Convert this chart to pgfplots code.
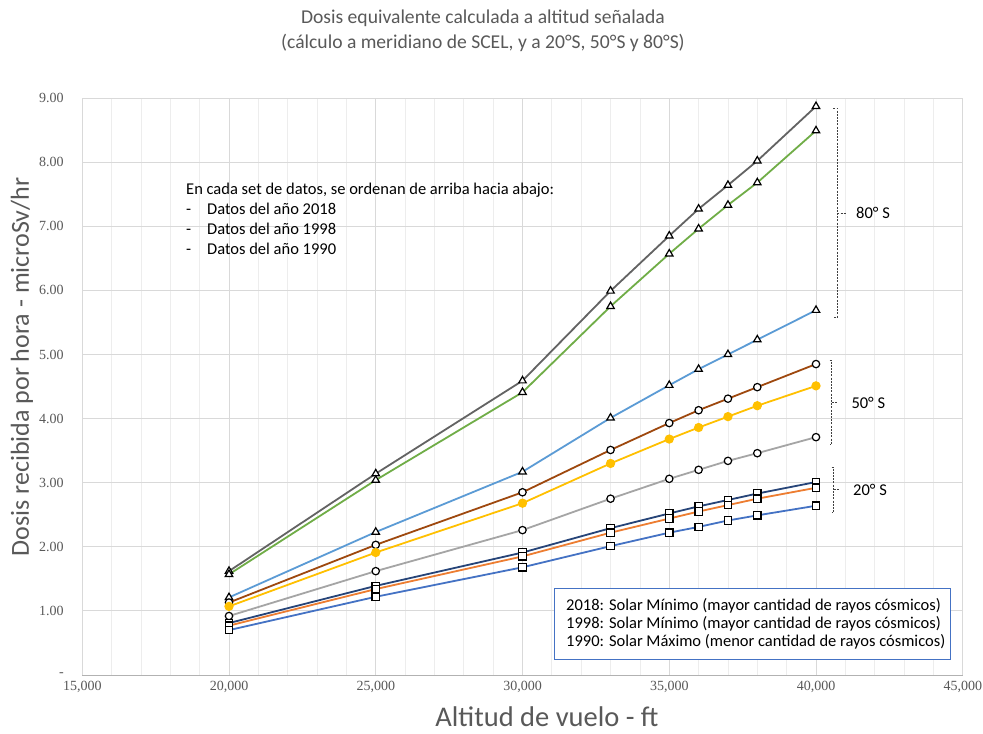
\documentclass[border=0pt]{standalone}
\usepackage{fontspec}
\setmainfont{Carlito}
\newfontfamily\tickfont{Liberation Serif}
\usepackage{pgfplots}
\pgfplotsset{compat=1.18}
\usepackage{pgfplotstable}
\definecolor{cA}{HTML}{636363}
\definecolor{cB}{HTML}{70AD47}
\definecolor{cC}{HTML}{5B9BD5}
\definecolor{cD}{HTML}{9E480E}
\definecolor{cE}{HTML}{FFC000}
\definecolor{cF}{HTML}{A5A5A5}
\definecolor{cG}{HTML}{264478}
\definecolor{cH}{HTML}{ED7D31}
\definecolor{cI}{HTML}{4472C4}
\definecolor{txt}{HTML}{595959}
\pgfplotstableread{
x s80a s80b s80c s50a s50b s50c s20a s20b s20c
20000 1.62 1.57 1.21 1.13 1.07 0.92 0.81 0.77 0.70
25000 3.14 3.04 2.23 2.03 1.91 1.62 1.39 1.34 1.22
30000 4.59 4.41 3.17 2.85 2.68 2.26 1.91 1.85 1.68
33000 5.99 5.75 4.01 3.51 3.30 2.75 2.29 2.22 2.01
35000 6.85 6.57 4.52 3.93 3.68 3.06 2.52 2.44 2.22
36000 7.27 6.96 4.77 4.13 3.86 3.20 2.63 2.55 2.31
37000 7.64 7.33 5.00 4.31 4.03 3.34 2.73 2.65 2.41
38000 8.02 7.68 5.23 4.49 4.20 3.46 2.83 2.75 2.49
40000 8.87 8.49 5.69 4.85 4.51 3.71 3.01 2.92 2.64
}\datatable
\begin{document}
\begin{tikzpicture}
\useasboundingbox[fill=white] (0bp,0bp) rectangle (983bp,734bp);
\begin{axis}[
  at={(82.25bp,59bp)}, anchor=south west,
  scale only axis, width=880.5bp, height=577bp,
  xmin=15000, xmax=45000, ymin=0, ymax=9,
  scaled x ticks=false, scaled y ticks=false,
  xtick={15000,20000,...,45000},
  xticklabels={{15,000},{20,000},{25,000},{30,000},{35,000},{40,000},{45,000}},
  minor x tick num=4,
  ytick={0,1,...,9},
  yticklabels={-,1.00,2.00,3.00,4.00,5.00,6.00,7.00,8.00,9.00},
  grid=both,
  major grid style={draw=black!15, line width=0.8bp},
  minor grid style={draw=black!7, line width=0.8bp},
  axis line style={draw=none},
  tick style={draw=none},
  tick label style={font=\tickfont\fontsize{14bp}{16bp}\selectfont, text=txt},
  yticklabel style={xshift=-15bp},
  xticklabel style={yshift=-3bp},
  clip=false,
  every axis plot/.append style={line width=1.8bp, mark size=3.7bp,
     mark options={draw=black, fill=white, line width=1.2bp, solid}},
]
\draw[black!30, line width=1bp] (axis cs:15000,0) -- (axis cs:45000,0);
\addplot[cA, mark=triangle*, mark size=4.3bp] table[x=x,y=s80a] {\datatable};
\addplot[cB, mark=triangle*, mark size=4.3bp] table[x=x,y=s80b] {\datatable};
\addplot[cC, mark=triangle*, mark size=4.3bp] table[x=x,y=s80c] {\datatable};
\addplot[cD, mark=*] table[x=x,y=s50a] {\datatable};
\addplot[cE, mark=*, mark options={fill=cE}] table[x=x,y=s50b] {\datatable};
\addplot[cF, mark=*] table[x=x,y=s50c] {\datatable};
\addplot[cG, mark=square*] table[x=x,y=s20a] {\datatable};
\addplot[cH, mark=square*] table[x=x,y=s20b] {\datatable};
\addplot[cI, mark=square*] table[x=x,y=s20c] {\datatable};
\end{axis}
\begin{scope}[x=1bp,y=1bp]
% title
\node[text=txt, align=center, font=\fontsize{19.6bp}{25bp}\selectfont] at (483,703)
  {Dosis equivalente calculada a altitud señalada\\(cálculo a meridiano de SCEL, y a 20°S, 50°S y 80°S)};
% axis labels
\node[text=txt, rotate=90, inner sep=0pt, font=\fontsize{26bp}{30bp}\selectfont] at (22,367) {Dosis recibida por hora - microSv/hr};
\node[text=txt, inner sep=0pt, font=\fontsize{28.5bp}{32bp}\selectfont] at (547,17) {Altitud de vuelo - ft};
% annotation
\begin{scope}[every node/.style={anchor=base west, inner sep=0pt, font=\fontsize{16.5bp}{19bp}\selectfont}]
\node at (186,539) {En cada set de datos, se ordenan de arriba hacia abajo:};
\node at (186,519) {\makebox[21bp][l]{-}Datos del año 2018};
\node at (186,499) {\makebox[21bp][l]{-}Datos del año 1998};
\node at (186,479) {\makebox[21bp][l]{-}Datos del año 1990};
\end{scope}
% legend box
\draw[draw=cI, fill=white, line width=1bp] (554,74.7) rectangle (950.7,145.7);
\begin{scope}[every node/.style={anchor=base west, inner sep=0pt, font=\fontsize{16.5bp}{19bp}\selectfont}]
\node at (566,124) {2018: Solar Mínimo (mayor cantidad de rayos cósmicos)};
\node at (566,106) {1998: Solar Mínimo (mayor cantidad de rayos cósmicos)};
\node at (566,87.5) {1990: Solar Máximo (menor cantidad de rayos cósmicos)};
\end{scope}
% brackets
\begin{scope}[black!75, line width=0.8bp, dash pattern=on 2bp off 1.2bp]
\draw (833.3,734-108.3) -- (837.3,734-108.3) -- (837.3,734-317.7) -- (833.3,734-317.7);
\draw (837.3,734-213.3) -- (845.7,734-213.3);
\draw (829.5,734-360.7) -- (831.7,734-360.7) -- (831.7,734-444) -- (829.5,734-444);
\draw (831.7,734-402.7) -- (837.7,734-402.7);
\draw (831.5,734-467.7) -- (833.7,734-467.7) -- (833.7,734-512.7) -- (831.5,734-512.7);
\draw (833.7,734-489.3) -- (838.7,734-489.3);
\end{scope}
\begin{scope}[every node/.style={anchor=west, inner sep=0pt, font=\fontsize{16.5bp}{19bp}\selectfont}]
\node at (856,734-213.3) {80° S};
\node at (851.3,734-402.7) {50° S};
\node at (853,734-490) {20° S};
\end{scope}
\end{scope}
\end{tikzpicture}
\end{document}
